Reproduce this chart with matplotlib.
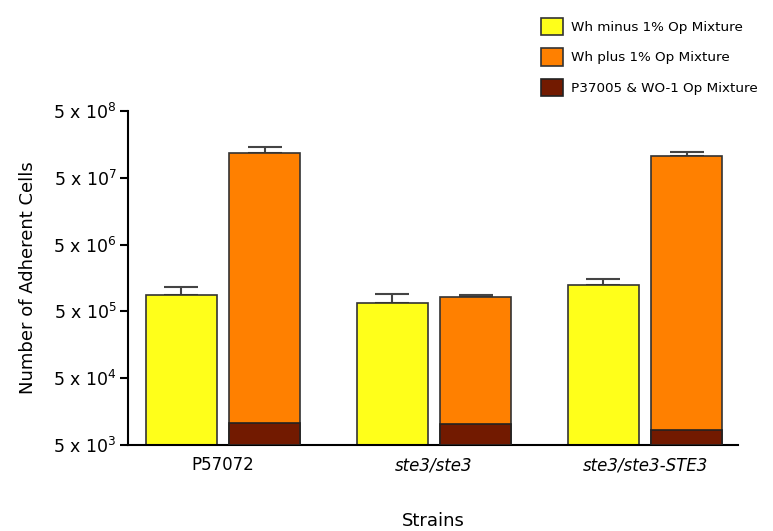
import numpy as np
import matplotlib.pyplot as plt

strains = ["P57072", "ste3/ste3", "ste3/ste3-STE3"]
wh_minus = [8.7e5, 6.7e5, 1.26e6]
wh_minus_err = [2.7e5, 2.5e5, 2.5e5]
wh_plus = [1.17e8, 8.2e5, 1.07e8]
wh_plus_err = [2.8e7, 0.7e5, 1.6e7]
p37005 = [1.08e4, 1.02e4, 8.3e3]

labels = ["Wh minus 1% Op Mixture", "Wh plus 1% Op Mixture", "P37005 & WO-1 Op Mixture"]
colors = ["#FFFF1A", "#FF8000", "#721A00"]

base = 5e3
x = np.arange(len(strains))
w = 0.336
off = 0.197

fig = plt.figure(figsize=(7.73, 5.31), dpi=100)
ax = fig.add_axes([0.1656, 0.162, 0.789, 0.629])

err_kw = dict(ecolor="#444444", elinewidth=1.5, capsize=12, capthick=1.5)

ax.bar(x - off, np.array(wh_minus) - base, w, bottom=base, color=colors[0],
       edgecolor="#333333", linewidth=1.2, label=labels[0], zorder=2)
ax.errorbar(x - off, wh_minus, yerr=[np.zeros(3), wh_minus_err], fmt="none", zorder=1, **err_kw)

ax.bar(x + off, np.array(wh_plus) - base, w, bottom=base, color=colors[1],
       edgecolor="#333333", linewidth=1.2, label=labels[1], zorder=2)
ax.errorbar(x + off, wh_plus, yerr=[np.zeros(3), wh_plus_err], fmt="none", zorder=1, **err_kw)

ax.bar(x + off, np.array(p37005) - base, w, bottom=base, color=colors[2],
       edgecolor="#222222", linewidth=1.2, label=labels[2], zorder=3)

ax.set_yscale("log")
ax.set_ylim(5e3, 5e8)
ax.set_xlim(-0.45, 2.44)
yt = [5e3, 5e4, 5e5, 5e6, 5e7, 5e8]
ax.set_yticks(yt)
ax.set_yticklabels([r"5 x 10$^{%d}$" % n for n in range(3, 9)])
ax.minorticks_off()
ax.tick_params(axis="y", direction="out", length=6, width=1.5, labelsize=12.5, pad=2)
ax.set_xticks(x)
ax.set_xticklabels(strains, fontsize=12)
for t in ax.get_xticklabels()[1:]:
    t.set_style("italic")
ax.tick_params(axis="x", length=0, pad=8)

for s in ["top", "right"]:
    ax.spines[s].set_visible(False)
ax.spines["left"].set_linewidth(1.5)
ax.spines["bottom"].set_linewidth(1.5)

ax.set_ylabel("Number of Adherent Cells", fontsize=13, labelpad=12)
ax.set_xlabel("Strains", fontsize=13, labelpad=27)

fig.legend(loc="upper left", bbox_to_anchor=(0.693, 0.977), frameon=False,
           fontsize=9.7, handlelength=1.65, handleheight=1.65, labelspacing=0.95,
           handletextpad=0.6, borderaxespad=0)

fig.savefig("out.png")
